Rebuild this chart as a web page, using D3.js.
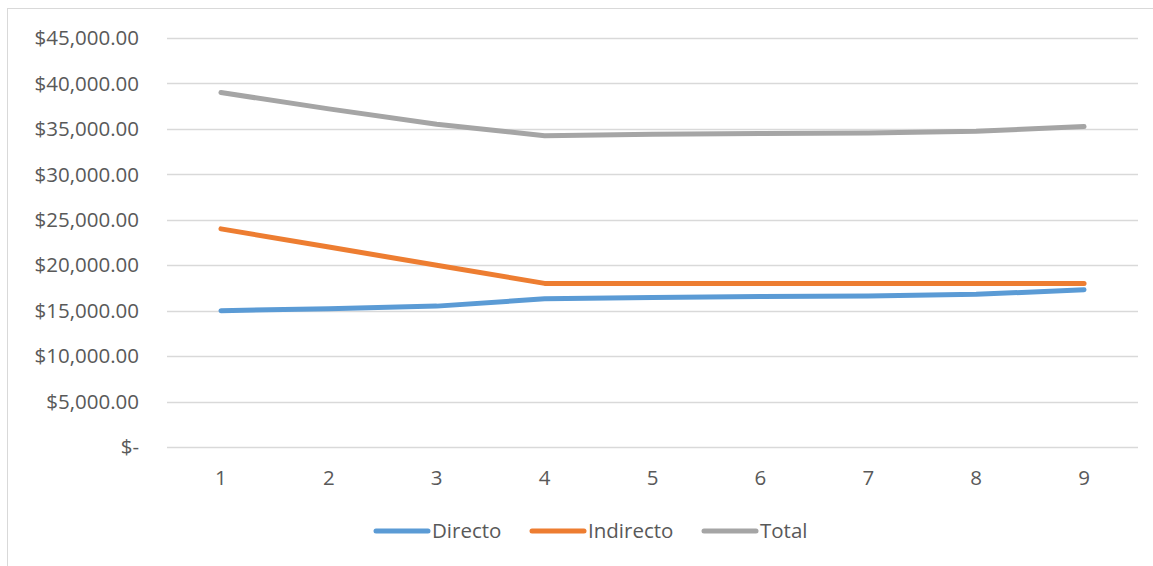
<!DOCTYPE html>
<html lang="es">
<head>
  <meta charset="utf-8">
  <title>Costos</title>
  <style>
    body { margin: 0; background: #fff; }
    svg text { font-family: "Open Sans", "Liberation Sans", sans-serif; fill: #595959; font-size: 20.5px; }
  </style>
</head>
<body>
<svg id="chart" width="1153" height="566"></svg>
<script src="https://d3js.org/d3.v7.min.js"></script>
<script>
  // datos
  var periodos  = [1, 2, 3, 4, 5, 6, 7, 8, 9];
  var directo   = [15000, 15200, 15500, 16300, 16450, 16550, 16600, 16800, 17300];
  var indirecto = [24000, 22000, 20000, 18000, 18000, 18000, 18000, 18000, 18000];
  var total     = [39000, 37200, 35500, 34250, 34400, 34500, 34550, 34750, 35250];
  var yTicks    = [0, 5000, 10000, 15000, 20000, 25000, 30000, 35000, 40000, 45000];

  var series = [
    { name: "Directo",   values: directo,   color: "#5B9BD5" },
    { name: "Indirecto", values: indirecto, color: "#ED7D31" },
    { name: "Total",     values: total,     color: "#A5A5A5" }
  ];

  var svg = d3.select("#chart");

  // marco del gráfico
  svg.append("rect")
     .attr("x", 7.5).attr("y", 8.5)
     .attr("width", 1150).attr("height", 565)
     .attr("fill", "none").attr("stroke", "#D9D9D9");

  var plot = { left: 167, right: 1138, top: 38, bottom: 447 };

  var x = d3.scaleBand().domain(periodos).range([plot.left, plot.right]);
  var y = d3.scaleLinear().domain([0, 45000]).range([plot.bottom, plot.top]);

  var fmt = function(v) {
    return v === 0 ? "$-" : "$" + d3.format(",.2f")(v);
  };

  // líneas de cuadrícula
  svg.append("g")
     .selectAll("line")
     .data(yTicks)
     .enter().append("line")
       .attr("x1", plot.left).attr("x2", plot.right)
       .attr("y1", d => Math.round(y(d)) + 0.5)
       .attr("y2", d => Math.round(y(d)) + 0.5)
       .attr("stroke", "#D9D9D9").attr("stroke-width", 1.3);

  // eje y
  svg.append("g")
     .selectAll("text")
     .data(yTicks)
     .enter().append("text")
       .attr("x", 139)
       .attr("y", d => y(d))
       .attr("dy", "0.35em")
       .attr("text-anchor", "end")
       .text(fmt);

  // eje x
  svg.append("g")
     .selectAll("text")
     .data(periodos)
     .enter().append("text")
       .attr("x", d => x(d) + x.bandwidth() / 2)
       .attr("y", 478)
       .attr("dy", "0.35em")
       .attr("text-anchor", "middle")
       .text(d => d);

  // series
  var line = d3.line()
    .x((v, i) => x(periodos[i]) + x.bandwidth() / 2)
    .y(v => y(v));

  svg.append("g")
     .selectAll("path")
     .data(series)
     .enter().append("path")
       .attr("d", d => line(d.values))
       .attr("fill", "none")
       .attr("stroke", d => d.color)
       .attr("stroke-width", 5)
       .attr("stroke-linecap", "round")
       .attr("stroke-linejoin", "round");

  // leyenda
  var legendX = [376, 532, 704];
  var legend = svg.append("g")
     .selectAll("g")
     .data(series)
     .enter().append("g")
       .attr("transform", (d, i) => "translate(" + legendX[i] + ",531)");

  legend.append("line")
     .attr("x1", 0).attr("x2", 52)
     .attr("stroke", d => d.color)
     .attr("stroke-width", 5)
     .attr("stroke-linecap", "round");

  legend.append("text")
     .attr("x", 56)
     .attr("dy", "0.35em")
     .text(d => d.name);
</script>
</body>
</html>
